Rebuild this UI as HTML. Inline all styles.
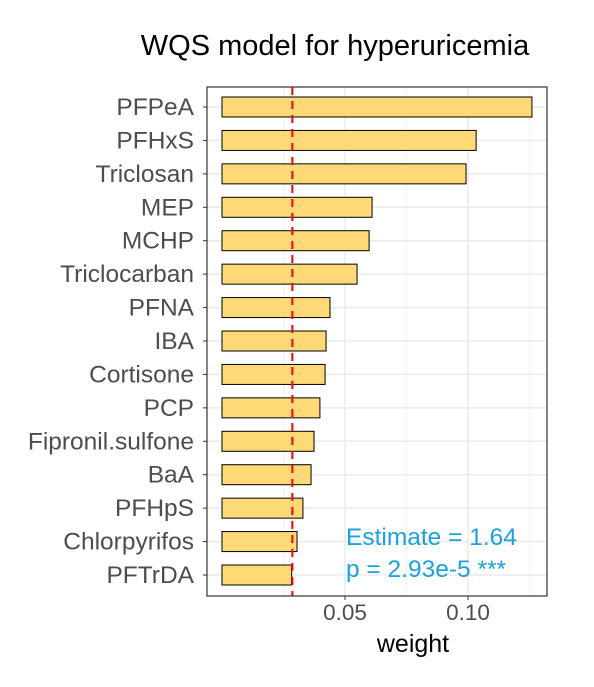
<!DOCTYPE html>
<html><head><meta charset="utf-8"><style>body{margin:0;background:#fff}svg{font-family:"Liberation Sans",sans-serif}</style></head>
<body>
<svg id="c" width="594" height="682"></svg>
<script>
const categories=["PFPeA","PFHxS","Triclosan","MEP","MCHP","Triclocarban","PFNA","IBA","Cortisone","PCP","Fipronil.sulfone","BaA","PFHpS","Chlorpyrifos","PFTrDA"];
const weights=[0.126,0.1033,0.0992,0.061,0.0598,0.0549,0.0439,0.0423,0.0419,0.0398,0.0374,0.0362,0.0329,0.0305,0.0283];
const threshold=0.0286;
const majorTicks=[0.05,0.10];
const tickLabels=["0.05","0.10"];
const minorTicks=[0.025,0.075,0.125];
const NS="http://www.w3.org/2000/svg",svg=document.getElementById('c');
const L=207,R=547,T=87,B=596;
const x=v=>222+v*2460;
const y=i=>107+i*(575-107)/(categories.length-1);
function el(t,a,txt){const e=document.createElementNS(NS,t);for(const k in a)e.setAttribute(k,a[k]);if(txt!==undefined)e.textContent=txt;svg.appendChild(e);return e;}
const bg=el('rect',{x:L,y:T,width:R-L,height:B-T,fill:'#fff'});


minorTicks.forEach(v=>{const g=el('line',{x1:x(v),x2:x(v),y1:T,y2:B,stroke:'#f0f0f0','stroke-width':1});

});
majorTicks.forEach(v=>{const g=el('line',{x1:x(v),x2:x(v),y1:T,y2:B,stroke:'#ebebeb','stroke-width':1.5});

});
categories.forEach((c,i)=>{const g=el('line',{x1:L,x2:R,y1:y(i),y2:y(i),stroke:'#ebebeb','stroke-width':1.5});

});
categories.forEach((c,i)=>{
const b=el('rect',{x:x(0),y:y(i)-10,width:x(weights[i])-x(0),height:20,fill:'#fed976',stroke:'#000','stroke-width':1});


const tk=el('line',{x1:L-4,x2:L,y1:y(i),y2:y(i),stroke:'#333','stroke-width':1});


const t=el('text',{x:194,y:y(i)+8,'text-anchor':'end','font-size':24.5,fill:'#4d4d4d'},c);


});
const rl=el('line',{x1:x(threshold),x2:x(threshold),y1:T,y2:B,stroke:'#ff0000','stroke-width':2,'stroke-dasharray':'8,6'});


const fr=el('rect',{x:L,y:T,width:R-L,height:B-T,fill:'none',stroke:'#333','stroke-width':1.2});


majorTicks.forEach((v,i)=>{
const tk=el('line',{x1:x(v),x2:x(v),y1:B,y2:B+4,stroke:'#333','stroke-width':1});


const t=el('text',{x:x(v),y:620,'text-anchor':'middle','font-size':22.5,fill:'#4d4d4d'},tickLabels[i]);


});
const xt=el('text',{x:413,y:652,'text-anchor':'middle','font-size':25,fill:'#000'},'weight');


const tt=el('text',{x:335,y:55,'text-anchor':'middle','font-size':29,fill:'#000'},'WQS model for hyperuricemia');


const a1=el('text',{x:346,y:545,'font-size':24.5,fill:'#1ba1e2'},'Estimate = 1.64');


const a2=el('text',{x:346,y:577,'font-size':24.5,fill:'#1ba1e2'},'p = 2.93e-5 ***');


</script>
</body></html>
